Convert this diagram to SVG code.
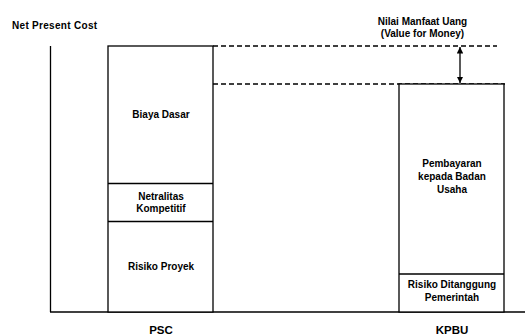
<svg xmlns="http://www.w3.org/2000/svg" width="525" height="336" viewBox="0 0 525 336">
<style>
text{font-family:"Liberation Sans",Arial,sans-serif;font-weight:bold;font-size:10px;fill:#000;text-anchor:middle}
.big{font-size:11.5px}
.ln{stroke:#000;stroke-width:1.3;fill:none}
.box{stroke:#000;stroke-width:1.3;fill:#fff}
.dash{stroke:#000;stroke-width:1.3;stroke-dasharray:5,3;fill:none}
</style>
<defs>
<marker id="ah" viewBox="0 0 10 10" refX="10" refY="5" markerWidth="5" markerHeight="5" orient="auto-start-reverse">
<path d="M0,0 L10,5 L0,10 z" fill="#000"/>
</marker>
</defs>
<rect width="525" height="336" fill="#fff"/>
<g id="axes">
<line class="ln" x1="50.5" y1="46" x2="50.5" y2="312"/>
<line class="ln" x1="50" y1="312" x2="525" y2="312"/>
<text x="12" y="29" style="text-anchor:start;letter-spacing:0.3px">Net Present Cost</text>
</g>
<g id="connectors">
<line class="dash" x1="213" y1="46" x2="497" y2="46"/>
<line class="dash" x1="213" y1="84" x2="505" y2="84"/>
<line class="ln" x1="460" y1="47" x2="460" y2="83" marker-start="url(#ah)" marker-end="url(#ah)"/>
</g>
<g id="vfm-label">
<text x="422.5" y="25">Nilai Manfaat Uang</text>
<text x="422.5" y="37">(Value for Money)</text>
</g>
<g id="psc">
<rect class="box" x="108" y="46" width="105" height="266"/>
<line class="ln" x1="108" y1="183.5" x2="213" y2="183.5"/>
<line class="ln" x1="108" y1="221.5" x2="213" y2="221.5"/>
<text x="161" y="118">Biaya Dasar</text>
<text x="161" y="200">Netralitas</text>
<text x="161" y="212">Kompetitif</text>
<text x="161" y="270">Risiko Proyek</text>
<text class="big" x="161" y="334">PSC</text>
</g>
<g id="kpbu">
<rect class="box" x="399" y="84" width="105" height="228"/>
<line class="ln" x1="399" y1="274" x2="504" y2="274"/>
<text x="452" y="167">Pembayaran</text>
<text x="452" y="180">kepada Badan</text>
<text x="452" y="193">Usaha</text>
<text x="452" y="288">Risiko Ditanggung</text>
<text x="452" y="301">Pemerintah</text>
<text class="big" x="452" y="334">KPBU</text>
</g>
</svg>
